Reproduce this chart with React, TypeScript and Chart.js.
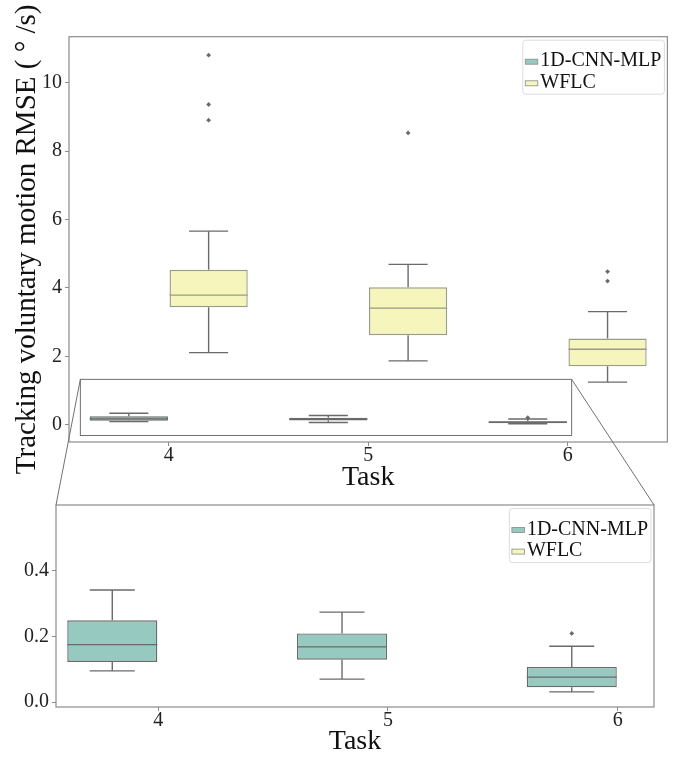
import React, { useEffect, useRef } from 'react';
import { Chart, registerables } from 'chart.js';

Chart.register(...registerables);

// ---------------- data ----------------
const TASKS = ['4', '5', '6'];
const SERIES_NAMES = ['1D-CNN-MLP', 'WFLC'];

const CNN_LOW = [0.095, 0.07, 0.031];
const CNN_Q1 = [0.122, 0.129, 0.045];
const CNN_MED = [0.175, 0.168, 0.076];
const CNN_Q3 = [0.249, 0.209, 0.107];
const CNN_HIGH = [0.341, 0.274, 0.17];
const CNN_OUTLIERS = [[], [], [0.209]];

const WFLC_LOW = [2.11, 1.87, 1.25];
const WFLC_Q1 = [3.44, 2.62, 1.71];
const WFLC_MED = [3.79, 3.41, 2.21];
const WFLC_Q3 = [4.53, 4.02, 2.52];
const WFLC_HIGH = [5.66, 4.69, 3.31];
const WFLC_OUTLIERS = [[10.8, 9.36, 8.9], [8.53], [4.48, 4.2]];

const TOP_Y_TICKS = [0, 2, 4, 6, 8, 10];
const BOTTOM_Y_TICKS = [0, 0.2, 0.4];
const TOP_Y_RANGE = [-0.5, 11.34];
const BOTTOM_Y_RANGE = [-0.015, 0.6];
const TOP_X_RANGE = [-0.5, 2.5];
const BOTTOM_X_RANGE = [-0.445, 2.158];
const INSET_X = [-0.443, 2.02];
const INSET_Y = [-0.31, 1.33];

const Y_TITLE = 'Tracking voluntary motion RMSE ( \u00b0 /s)';
const X_TITLE = 'Task';

// ---------------- styles ----------------
const FONT = "'Liberation Serif', 'Times New Roman', serif";
const SERIES_COLORS = ['#96cac1', '#f5f5bc'];
const SERIES_EDGES = ['#6a6a6a', '#9a9a88'];
const LINE_GRAY = '#6a6a6a';
const FRAME_GRAY = '#8c8c8c';
const CATEGORY_PCT = 0.8;
const BAR_PCT = 0.98;

const STATS = [
  { low: CNN_LOW, q1: CNN_Q1, med: CNN_MED, q3: CNN_Q3, high: CNN_HIGH, out: CNN_OUTLIERS },
  { low: WFLC_LOW, q1: WFLC_Q1, med: WFLC_MED, q3: WFLC_Q3, high: WFLC_HIGH, out: WFLC_OUTLIERS },
];

const TOP_CANVAS = { top: 0, height: 494 };
const BOTTOM_CANVAS = { top: 490, height: 268 };
const WIDTH = 678;

function buildDatasets() {
  const bars = STATS.map((s, si) => ({
    type: 'bar',
    label: SERIES_NAMES[si],
    data: TASKS.map((_, i) => ({ x: i, y: [s.q1[i], s.q3[i]] })),
    backgroundColor: SERIES_COLORS[si],
    borderColor: SERIES_EDGES[si],
    borderWidth: 1.4,
    borderSkipped: false,
    categoryPercentage: CATEGORY_PCT,
    barPercentage: BAR_PCT,
    grouped: true,
    order: 2,
  }));
  const pts = STATS.map((s, si) => {
    const dodge = (si - 0.5) * (CATEGORY_PCT / 2);
    const data: any[] = [];
    s.out.forEach((arr, i) => arr.forEach((v) => data.push({ x: i + dodge, y: v })));
    return {
      type: 'scatter',
      label: SERIES_NAMES[si] + ' outliers',
      data,
      pointStyle: 'rectRot',
      radius: 2.4,
      backgroundColor: LINE_GRAY,
      borderColor: LINE_GRAY,
      borderWidth: 0,
      showLine: false,
      order: 1,
    };
  });
  return [...bars, ...pts];
}

const boxPlugin = {
  id: 'boxExtras',
  beforeDatasetsDraw(chart: any) {
    const { ctx, chartArea } = chart;
    const y = chart.scales.y;
    ctx.save();
    ctx.beginPath();
    ctx.rect(chartArea.left, chartArea.top, chartArea.right - chartArea.left, chartArea.bottom - chartArea.top);
    ctx.clip();
    ctx.strokeStyle = LINE_GRAY;
    ctx.lineWidth = 1.4;
    STATS.forEach((s, si) => {
      const meta = chart.getDatasetMeta(si);
      meta.data.forEach((el: any, i: number) => {
        const cx = el.x;
        const half = el.width / 4;
        const segs = [
          [s.q3[i], s.high[i]],
          [s.q1[i], s.low[i]],
        ];
        segs.forEach(([a, b]) => {
          ctx.beginPath();
          ctx.moveTo(cx, y.getPixelForValue(a));
          ctx.lineTo(cx, y.getPixelForValue(b));
          ctx.stroke();
          ctx.beginPath();
          ctx.moveTo(cx - half, y.getPixelForValue(b));
          ctx.lineTo(cx + half, y.getPixelForValue(b));
          ctx.stroke();
        });
      });
    });
    ctx.restore();
  },
  afterDatasetsDraw(chart: any) {
    const { ctx, chartArea } = chart;
    const y = chart.scales.y;
    ctx.save();
    ctx.beginPath();
    ctx.rect(chartArea.left, chartArea.top, chartArea.right - chartArea.left, chartArea.bottom - chartArea.top);
    ctx.clip();
    ctx.lineWidth = 1.4;
    STATS.forEach((s, si) => {
      const meta = chart.getDatasetMeta(si);
      ctx.strokeStyle = SERIES_EDGES[si];
      meta.data.forEach((el: any, i: number) => {
        const py = y.getPixelForValue(s.med[i]);
        ctx.beginPath();
        ctx.moveTo(el.x - el.width / 2, py);
        ctx.lineTo(el.x + el.width / 2, py);
        ctx.stroke();
      });
    });
    ctx.restore();
  },
  afterDraw(chart: any, _args: any, opts: any) {
    const { ctx, chartArea } = chart;
    ctx.save();
    // frame
    ctx.strokeStyle = FRAME_GRAY;
    ctx.lineWidth = 1.2;
    ctx.strokeRect(chartArea.left, chartArea.top, chartArea.right - chartArea.left, chartArea.bottom - chartArea.top);
    // inset rectangle
    if (opts && opts.inset) {
      const x = chart.scales.x;
      const y = chart.scales.y;
      const x0 = x.getPixelForValue(INSET_X[0]);
      const x1 = x.getPixelForValue(INSET_X[1]);
      const y0 = y.getPixelForValue(INSET_Y[1]);
      const y1 = y.getPixelForValue(INSET_Y[0]);
      ctx.strokeStyle = '#707070';
      ctx.lineWidth = 1;
      ctx.strokeRect(x0, y0, x1 - x0, y1 - y0);
    }
    // legend
    ctx.font = `20px ${FONT}`;
    const tw = Math.max(...SERIES_NAMES.map((n) => ctx.measureText(n).width));
    const bw = tw + 20.5;
    const bh = 54;
    const lx = chartArea.right - 3 - bw;
    const ly = chartArea.top + 3.5;
    ctx.fillStyle = 'rgba(255,255,255,0.85)';
    ctx.strokeStyle = '#dcdcdc';
    ctx.lineWidth = 1;
    ctx.beginPath();
    (ctx as any).roundRect(lx, ly, bw, bh, 3);
    ctx.fill();
    ctx.stroke();
    ctx.textBaseline = 'middle';
    ctx.textAlign = 'left';
    SERIES_NAMES.forEach((name, si) => {
      const cy = ly + 21 + si * 21.6;
      ctx.fillStyle = SERIES_COLORS[si];
      ctx.fillRect(lx + 2.5, cy - 2, 12.5, 5);
      ctx.strokeStyle = '#8a8a8a';
      ctx.lineWidth = 0.8;
      ctx.strokeRect(lx + 2.5, cy - 2, 12.5, 5);
      ctx.fillStyle = '#111';
      ctx.fillText(name, lx + 17.5, cy);
    });
    ctx.restore();
  },
};

function makeConfig(opts: {
  xRange: number[];
  yRange: number[];
  yTicks: number[];
  yWidth: number;
  xHeight: number;
  padTop: number;
  padRight: number;
  yTitle: boolean;
  yTickDigits: number;
  inset: boolean;
}) {
  const tickFont = { family: FONT, size: 20 };
  const xTitleFont = { family: FONT, size: 28, lineHeight: 1.2 };
  const yTitleFont = { family: FONT, size: 29, lineHeight: 1.2 };
  return {
    type: 'bar',
    data: { datasets: buildDatasets() },
    plugins: [boxPlugin],
    options: {
      animation: false,
      responsive: false,
      events: [],
      layout: { padding: { top: opts.padTop, right: opts.padRight, left: 0, bottom: 0 } },
      plugins: {
        legend: { display: false },
        tooltip: { enabled: false },
        boxExtras: { inset: opts.inset },
      },
      scales: {
        x: {
          type: 'linear',
          min: opts.xRange[0],
          max: opts.xRange[1],
          offset: false,
          afterBuildTicks: (s: any) => {
            s.ticks = TASKS.map((_, i) => ({ value: i }));
          },
          afterFit: (s: any) => {
            s.height = opts.xHeight;
          },
          ticks: {
            autoSkip: false,
            maxRotation: 0,
            font: tickFont,
            color: '#222',
            padding: -2,
            callback: (v: number) => TASKS[Math.round(v)],
          },
          grid: { drawOnChartArea: false, offset: false, tickLength: 4, color: FRAME_GRAY, lineWidth: 1 },
          border: { display: false },
          title: { display: true, text: X_TITLE, font: xTitleFont, color: '#111', padding: { top: 0, bottom: 0 } },
        },
        y: {
          type: 'linear',
          min: opts.yRange[0],
          max: opts.yRange[1],
          afterBuildTicks: (s: any) => {
            s.ticks = opts.yTicks.map((v) => ({ value: v }));
          },
          afterFit: (s: any) => {
            s.width = opts.yWidth;
          },
          ticks: {
            font: tickFont,
            color: '#222',
            padding: 3,
            callback: (v: number) => v.toFixed(opts.yTickDigits),
          },
          grid: { drawOnChartArea: false, tickLength: 4, color: FRAME_GRAY, lineWidth: 1 },
          border: { display: false },
          title: {
            display: opts.yTitle,
            text: Y_TITLE,
            font: yTitleFont,
            color: '#111',
            padding: { top: 10, bottom: 0 },
          },
        },
      },
    },
  };
}

export default function App() {
  const topRef = useRef<HTMLCanvasElement>(null);
  const botRef = useRef<HTMLCanvasElement>(null);
  const overRef = useRef<HTMLCanvasElement>(null);

  useEffect(() => {
    const top = new Chart(
      topRef.current as HTMLCanvasElement,
      makeConfig({
        xRange: TOP_X_RANGE,
        yRange: TOP_Y_RANGE,
        yTicks: TOP_Y_TICKS,
        yWidth: 69,
        xHeight: TOP_CANVAS.height - 442,
        padTop: 36.7,
        padRight: WIDTH - 667.4,
        yTitle: true,
        yTickDigits: 0,
        inset: true,
      }) as any
    );
    const bot = new Chart(
      botRef.current as HTMLCanvasElement,
      makeConfig({
        xRange: BOTTOM_X_RANGE,
        yRange: BOTTOM_Y_RANGE,
        yTicks: BOTTOM_Y_TICKS,
        yWidth: 56,
        xHeight: BOTTOM_CANVAS.height - (707 - BOTTOM_CANVAS.top),
        padTop: 500.3 - BOTTOM_CANVAS.top,
        padRight: WIDTH - 654,
        yTitle: false,
        yTickDigits: 1,
        inset: false,
      }) as any
    );
    const oc = overRef.current as HTMLCanvasElement;
    const ctx = oc.getContext('2d') as CanvasRenderingContext2D;
    ctx.clearRect(0, 0, oc.width, oc.height);
    const tx = top.scales.x;
    const ty = top.scales.y;
    const ca = bot.chartArea;
    const pairs: [number, number][] = [
      [INSET_X[0], ca.left],
      [INSET_X[1], ca.right],
    ];
    ctx.strokeStyle = '#707070';
    ctx.lineWidth = 1;
    pairs.forEach(([xv, bx]) => {
      ctx.beginPath();
      ctx.moveTo(tx.getPixelForValue(xv), ty.getPixelForValue(INSET_Y[1]) + TOP_CANVAS.top);
      ctx.lineTo(bx, ca.top + BOTTOM_CANVAS.top);
      ctx.stroke();
    });
    return () => {
      top.destroy();
      bot.destroy();
      ctx.clearRect(0, 0, oc.width, oc.height);
    };
  }, []);

  const abs = (t: number, h: number): React.CSSProperties => ({
    position: 'absolute',
    left: 0,
    top: t,
    width: WIDTH,
    height: h,
    display: 'block',
  });

  return (
    <div style={{ position: 'absolute', left: 0, top: 0, width: WIDTH, height: 758, background: '#fff' }}>
      <canvas ref={topRef} width={WIDTH} height={TOP_CANVAS.height} style={abs(TOP_CANVAS.top, TOP_CANVAS.height)} />
      <canvas ref={botRef} width={WIDTH} height={BOTTOM_CANVAS.height} style={abs(BOTTOM_CANVAS.top, BOTTOM_CANVAS.height)} />
      <canvas
        ref={overRef}
        width={WIDTH}
        height={758}
        style={{ ...abs(0, 758), pointerEvents: 'none' }}
      />
    </div>
  );
}
